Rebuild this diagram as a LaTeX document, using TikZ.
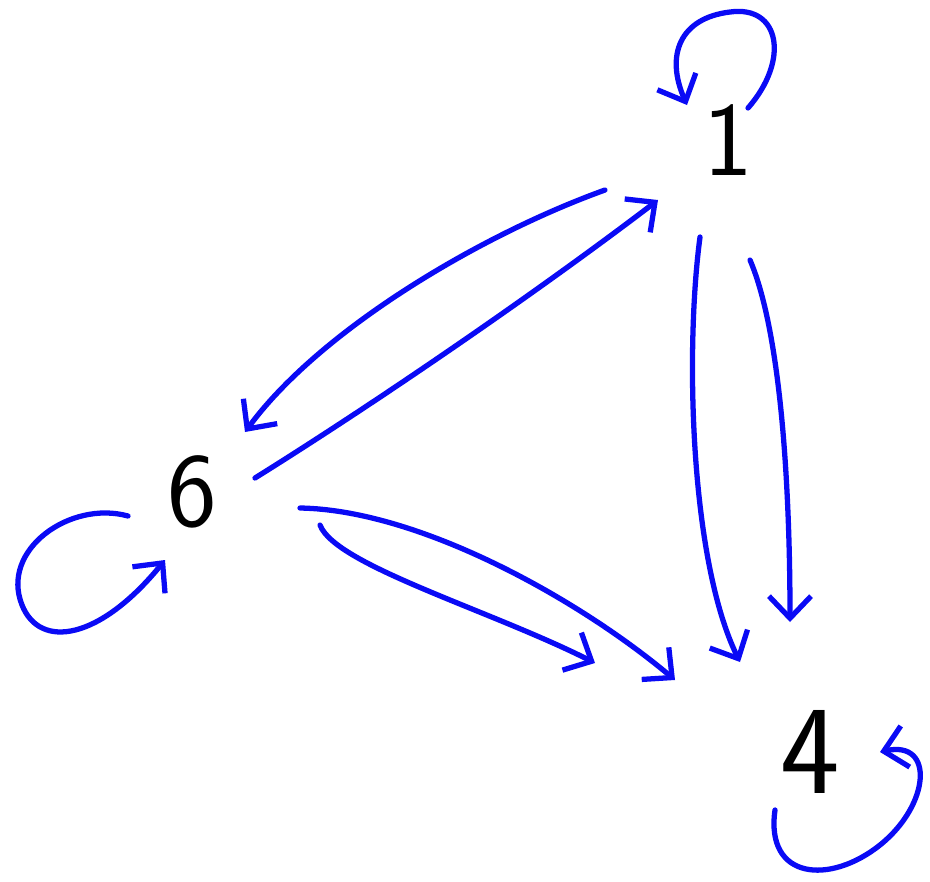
\documentclass[tikz,border=0pt]{standalone}
\usetikzlibrary{arrows.meta,calc}
\definecolor{penblue}{RGB}{10,10,245}
\begin{document}
\begin{tikzpicture}[x=0.01cm,y=-0.01cm,>={Straight Barb[length=2.2mm,width=4.2mm]},
  edge/.style={->,draw=penblue,line width=1.5pt,line cap=round,line join=round},
  vertex/.style={font=\sffamily\fontsize{30}{32}\selectfont,text=black,inner sep=0pt}]
\useasboundingbox (0,0) rectangle (930,881);
\node[vertex] (n1) at (728,140) {1};
\node[vertex] (n6) at (192,492) {6};
\node[vertex,font=\sffamily\fontsize{36}{38}\selectfont] (n4) at (810,752) {4};
% loops
\draw[edge] ($(n1)+(20,-32)$) .. controls ($(n1)+(62,-80)$) and ($(n1)+(52,-135)$) .. ($(n1)+(2,-128)$)
  .. controls ($(n1)+(-48,-122)$) and ($(n1)+(-63,-85)$) .. ($(n1)+(-41,-35)$);
\draw[edge] ($(n6)+(-64,24)$) .. controls ($(n6)+(-122,8)$) and ($(n6)+(-192,58)$) .. ($(n6)+(-170,113)$)
  .. controls ($(n6)+(-152,158)$) and ($(n6)+(-92,148)$) .. ($(n6)+(-27,68)$);
\draw[edge] ($(n4)+(-35,58)$) .. controls ($(n4)+(-45,128)$) and ($(n4)+(20,133)$) .. ($(n4)+(70,93)$)
  .. controls ($(n4)+(120,53)$) and ($(n4)+(125,-12)$) .. ($(n4)+(70,0)$);
% between 1 and 6
\draw[edge] ($(n1)+(-123,50)$) .. controls ($(n1)+(-248,95)$) and ($(n1)+(-408,190)$) .. ($(n6)+(53,-60)$);
\draw[edge] ($(n6)+(63,-14)$) .. controls ($(n6)+(188,-92)$) and ($(n6)+(348,-202)$) .. ($(n1)+(-70,60)$);
% from 1 to 4
\draw[edge] ($(n1)+(-28,97)$) .. controls ($(n1)+(-43,210)$) and ($(n1)+(-38,420)$) .. ($(n4)+(-70,-90)$);
\draw[edge] ($(n1)+(22,120)$) .. controls ($(n1)+(52,190)$) and ($(n1)+(62,340)$) .. ($(n4)+(-20,-130)$);
% from 6 to 4
\draw[edge] ($(n6)+(108,16)$) .. controls ($(n6)+(228,18)$) and ($(n6)+(388,108)$) .. ($(n4)+(-135,-72)$);
\draw[edge] ($(n6)+(128,33)$) .. controls ($(n6)+(143,73)$) and ($(n6)+(298,118)$) .. ($(n4)+(-215,-89)$);
\end{tikzpicture}
\end{document}
